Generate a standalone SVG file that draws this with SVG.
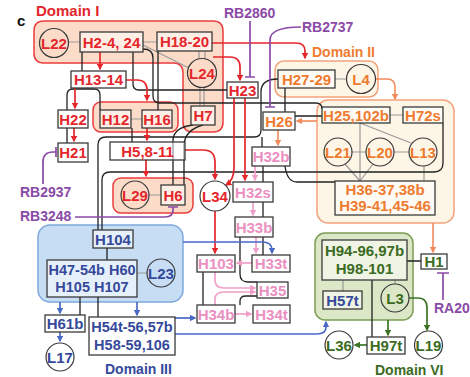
<svg xmlns="http://www.w3.org/2000/svg" width="470" height="377" viewBox="0 0 470 377">
<defs>
<style>
text{font-family:"Liberation Sans",Arial,sans-serif;font-weight:bold;font-size:15px;text-anchor:middle}
.st{text-anchor:start;font-size:14px}
.bx{fill:#fff;fill-opacity:.55;stroke:#3a3a3a;stroke-width:1.3}
.ci{fill:none;stroke:#3a3a3a;stroke-width:1.2}
.r{fill:#e4262c}.o{fill:#ee7b30}.p{fill:#ea8fc0}.b{fill:#35499a}.g{fill:#3b6b22}.pu{fill:#8a4aa6}
.k{fill:none;stroke:#222;stroke-width:1.3}
.gr{fill:none;stroke:#9a9a9a;stroke-width:1.2}
.ar{fill:none;stroke:#e4262c;stroke-width:1.7;marker-end:url(#mr)}
.ao{fill:none;stroke:#f28a5c;stroke-width:1.6;marker-end:url(#mo)}
.ap{fill:none;stroke:#f0a0c8;stroke-width:1.7;marker-end:url(#mp)}
.ab{fill:none;stroke:#4a68c6;stroke-width:1.7;marker-end:url(#mb)}
.ag{fill:none;stroke:#3b7524;stroke-width:1.7;marker-end:url(#mg)}
.pl{fill:none;stroke:#8a4aa6;stroke-width:1.7}
</style>
<marker id="mr" viewBox="0 0 10 10" refX="8" refY="5" markerWidth="4" markerHeight="4" orient="auto"><path d="M0,0L10,5L0,10z" fill="#e4262c"/></marker>
<marker id="mo" viewBox="0 0 10 10" refX="8" refY="5" markerWidth="4" markerHeight="4" orient="auto"><path d="M0,0L10,5L0,10z" fill="#f28a5c"/></marker>
<marker id="mp" viewBox="0 0 10 10" refX="8" refY="5" markerWidth="4" markerHeight="4" orient="auto"><path d="M0,0L10,5L0,10z" fill="#f0a0c8"/></marker>
<marker id="mb" viewBox="0 0 10 10" refX="8" refY="5" markerWidth="4" markerHeight="4" orient="auto"><path d="M0,0L10,5L0,10z" fill="#4a68c6"/></marker>
<marker id="mg" viewBox="0 0 10 10" refX="8" refY="5" markerWidth="4" markerHeight="4" orient="auto"><path d="M0,0L10,5L0,10z" fill="#3b7524"/></marker>
</defs>
<rect width="470" height="377" fill="#fff"/>

<g id="domains">
<path d="M44,21H213Q223,21 223,31V122Q223,132 213,132H193Q183,132 183,122V73Q183,63 173,63H44Q34,63 34,53V31Q34,21 44,21Z" fill="#fcdcc8" stroke="#ea3c3c" stroke-width="1.5"/>
<rect x="93" y="102" width="85" height="30" rx="8" fill="#fcdcc8" stroke="#ea3c3c" stroke-width="1.5"/>
<rect x="113" y="178" width="80" height="35" rx="8" fill="#fcdcc8" stroke="#ea3c3c" stroke-width="1.5"/>
<rect x="275" y="61" width="103" height="36" rx="9" fill="#fdf6e6" stroke="#f5a27c" stroke-width="1.5"/>
<rect x="317" y="100" width="137" height="123" rx="11" fill="#fdf6e6" stroke="#f5a27c" stroke-width="1.5"/>
<rect x="38" y="225" width="145" height="77" rx="12" fill="#c7ddf4" stroke="#7ea8dc" stroke-width="1.5"/>
<rect x="315" y="233" width="98" height="87" rx="10" fill="#dbe7c6" stroke="#7c9c55" stroke-width="1.5"/>
</g>

<g id="connectors">
<!-- gray -->
<path class="gr" d="M68.5,42H80M143,42H157M143,45L189,68M199,51V59M205,51V59M200,87.5V106M204,87.5V106M131,119H142M149,195H161M335,79H346.5M390,115H403M360,123V181M360,123L411,143M352,152H366M394,152H409M345,164L360,181M373,164L360,181M424,166V181M137,273H147M343,280V291M395,280V284"/>
<!-- black -->
<path class="k" d="M82,52V71M133,52V84Q133,90 139,90H227M143,49Q153,49 153,58V96Q153,103 160,103H316Q322,103 322,109M158,51V110M67,110V95Q67,89 73,89H94Q100,89 100,95V110M67,128V143M132,128V142M193,125Q174,127 173,140V185M203,125Q185,130 184,145V185"/>
<path class="k" d="M278,79Q261,79 261,92V130Q261,137 254,137H106Q98,137 98,145V230M443,123V163Q443,172 434,172H110Q102,172 102,180V230M285,166Q287,182 297,182H335M285,88V112M295,116H322M262,137V147M263,166V182M263,202V217M263,237V255M240,237V274Q240,282 248,282H257M240,305V301Q240,296 246,296H257M203,272V305"/>
<path class="k" d="M107,248V260M80,297V315M98,297V317M407,261H421M372,280V337"/>
<!-- red -->
<path class="ar" d="M100,52V69"/>
<path class="ar" d="M75,88V108"/>
<path class="ar" d="M74,128V141"/>
<path class="ar" d="M126,80H137Q147,80 147,90V100"/>
<path class="ar" d="M147,128V140"/>
<path class="ar" d="M146,160V176"/>
<path class="ar" d="M185,150H203Q215,150 215,162V179"/>
<path class="ar" d="M234,98V168Q234,180 226,185"/>
<path class="ar" d="M245,98V180"/>
<path class="ar" d="M213,57H230Q240,57 240,67V80"/>
<path class="ar" d="M212,43H296Q305,43 305,51V58"/>
<path class="ar" d="M215,211V253"/>
<!-- orange -->
<path class="ao" d="M375.5,79H387Q395,79 395,87V99"/>
<path class="ao" d="M317,121H297"/>
<path class="ao" d="M278,130V145"/>
<path class="ao" d="M433,223V252"/>
<!-- pink -->
<path class="ap" d="M255,166V180"/>
<path class="ap" d="M253,202V215"/>
<path class="ap" d="M256,237V253"/>
<path class="ap" d="M252,263H237"/>
<path class="ap" d="M215,272V280Q215,288 224,288H255"/>
<path class="ap" d="M215,305V299Q215,292 224,292H255"/>
<path class="ap" d="M235,314H251"/>
<!-- blue -->
<path class="ab" d="M60,302V313"/>
<path class="ab" d="M60,332V341"/>
<path class="ab" d="M137,302V315"/>
<path class="ab" d="M183,242H262Q272,242 272,250V253"/>
<path class="ab" d="M175,318H195"/>
<path class="ab" d="M175,334H317Q326,334 326,327V322"/>
<!-- green -->
<path class="ag" d="M388,320V335"/>
<path class="ag" d="M409,298H418Q427,298 427,308V330"/>
<path class="ag" d="M367,345H355"/>
<!-- purple inhibitors -->
<path class="pl" d="M250,21V77M245,77H255"/>
<path class="pl" d="M301,27Q270,27 270,40V107M265,107H275"/>
<path class="pl" d="M43,184V162Q43,152 53,152H56M56,147V157"/>
<path class="pl" d="M75,217H165Q173,217 173,210V207M168,207H178"/>
<path class="pl" d="M443,300V273M437,273H449"/>
</g>

<g id="L22"><circle class="ci" cx="54" cy="43" r="14.5"/><text class="r" x="54" y="48.5">L22</text></g>
<g id="H2-4"><rect class="bx" x="80" y="32" width="63" height="20"/><text class="r" x="111.5" y="47.5">H2-4, 24</text></g>
<g id="H18-20"><rect class="bx" x="157" y="32" width="55" height="19"/><text class="r" x="184.5" y="47">H18-20</text></g>
<g id="L24"><circle class="ci" cx="202" cy="73" r="14.5"/><text class="r" x="202" y="78.5">L24</text></g>
<g id="H7"><rect class="bx" x="191" y="106" width="24" height="19"/><text class="r" x="203" y="121">H7</text></g>
<g id="H13-14"><rect class="bx" x="71" y="71" width="55" height="17"/><text class="r" x="98.5" y="85">H13-14</text></g>
<g id="H22"><rect class="bx" x="58" y="110" width="30" height="18"/><text class="r" x="73" y="124.5">H22</text></g>
<g id="H12"><rect class="bx" x="100" y="110" width="31" height="18"/><text class="r" x="115.5" y="124.5">H12</text></g>
<g id="H16"><rect class="bx" x="142" y="110" width="30" height="18"/><text class="r" x="157" y="124.5">H16</text></g>
<g id="H21"><rect class="bx" x="58" y="143" width="30" height="19"/><text class="r" x="73" y="158">H21</text></g>
<g id="H5"><rect class="bx" x="110" y="142" width="75" height="18"/><text class="r" x="147.5" y="156.5">H5,8-11</text></g>
<g id="L29"><circle class="ci" cx="135" cy="195" r="14"/><text class="r" x="135" y="200.5">L29</text></g>
<g id="H6"><rect class="bx" x="161" y="185" width="24" height="20"/><text class="r" x="173" y="200.5">H6</text></g>
<g id="L34"><circle class="ci" cx="215" cy="196" r="15"/><text class="r" x="215" y="201.5">L34</text></g>
<g id="H23"><rect class="bx" x="227" y="82" width="31" height="16"/><text class="r" x="242.5" y="95.5">H23</text></g>

<g id="H27-29"><rect class="bx" x="278" y="70" width="57" height="18"/><text class="o" x="306.5" y="84.5">H27-29</text></g>
<g id="L4"><circle class="ci" cx="361" cy="79" r="14.5"/><text class="o" x="361" y="84.5">L4</text></g>
<g id="H26"><rect class="bx" x="263" y="112" width="32" height="18"/><text class="o" x="279" y="126.5">H26</text></g>
<g id="H25"><rect class="bx" x="322" y="107" width="68" height="16"/><text class="o" x="356" y="120.5">H25,102b</text></g>
<g id="H72s"><rect class="bx" x="403" y="107" width="40" height="16"/><text class="o" x="423" y="120.5">H72s</text></g>
<g id="L21"><circle class="ci" cx="338" cy="152" r="14"/><text class="o" x="338" y="157.5">L21</text></g>
<g id="L20"><circle class="ci" cx="380" cy="152" r="14"/><text class="o" x="380" y="157.5">L20</text></g>
<g id="L13"><circle class="ci" cx="423" cy="152" r="14"/><text class="o" x="423" y="157.5">L13</text></g>
<g id="H36"><rect class="bx" x="335" y="181" width="100" height="34"/><text class="o" x="385" y="195">H36-37,38b</text><text class="o" x="385" y="211">H39-41,45-46</text></g>

<g id="H32b"><rect class="bx" x="252" y="147" width="38" height="19"/><text class="p" x="271" y="162">H32b</text></g>
<g id="H32s"><rect class="bx" x="233" y="182" width="40" height="20"/><text class="p" x="253" y="197.5">H32s</text></g>
<g id="H33b"><rect class="bx" x="235" y="217" width="38" height="20"/><text class="p" x="254" y="232.5">H33b</text></g>
<g id="H103"><rect class="bx" x="197" y="255" width="38" height="17"/><text class="p" x="216" y="269">H103</text></g>
<g id="H33t"><rect class="bx" x="252" y="255" width="38" height="17"/><text class="p" x="271" y="269">H33t</text></g>
<g id="H35"><rect class="bx" x="257" y="282" width="31" height="16"/><text class="p" x="272.5" y="295.5">H35</text></g>
<g id="H34b"><rect class="bx" x="197" y="305" width="38" height="18"/><text class="p" x="216" y="319.5">H34b</text></g>
<g id="H34t"><rect class="bx" x="253" y="305" width="37" height="18"/><text class="p" x="271.5" y="319.5">H34t</text></g>

<g id="H104"><rect class="bx" x="93" y="230" width="40" height="18"/><text class="b" x="113" y="244.5">H104</text></g>
<g id="H47"><rect class="bx" x="47" y="260" width="90" height="37"/><text class="b" x="92" y="275" style="font-size:14.5px">H47-54b H60</text><text class="b" x="92" y="292" style="font-size:14.5px">H105 H107</text></g>
<g id="L23"><circle class="ci" cx="161" cy="273" r="14"/><text class="b" x="161" y="278.5">L23</text></g>
<g id="H61b"><rect class="bx" x="45" y="315" width="40" height="17"/><text class="b" x="65" y="329">H61b</text></g>
<g id="L17"><circle class="ci" cx="60" cy="357" r="14"/><text class="b" x="60" y="362.5">L17</text></g>
<g id="H54t"><rect class="bx" x="89" y="317" width="86" height="38"/><text class="b" x="132" y="331.5" style="font-size:14.5px">H54t-56,57b</text><text class="b" x="132" y="350" style="font-size:14.5px">H58-59,106</text></g>

<g id="H94"><rect class="bx" x="322" y="240" width="85" height="40"/><text class="g" x="364.5" y="256">H94-96,97b</text><text class="g" x="364.5" y="274">H98-101</text></g>
<g id="H57t"><rect class="bx" x="323" y="291" width="39" height="18"/><text class="b" x="342.5" y="305.5">H57t</text></g>
<g id="L3"><circle class="ci" cx="395" cy="298" r="14"/><text class="g" x="395" y="303.5">L3</text></g>
<g id="H1"><rect class="bx" x="421" y="254" width="26" height="15"/><text class="g" x="434" y="267">H1</text></g>
<g id="L36"><circle class="ci" cx="339" cy="345" r="14"/><text class="g" x="339" y="350.5">L36</text></g>
<g id="H97t"><rect class="bx" x="367" y="337" width="38" height="17"/><text class="g" x="386" y="351">H97t</text></g>
<g id="L19"><circle class="ci" cx="428.5" cy="345" r="14"/><text class="g" x="428.5" y="350.5">L19</text></g>

<g id="labels">
<text class="st" x="17" y="26" style="font-size:15px" fill="#111">c</text>
<text class="st r" x="36" y="16" style="font-size:15px">Domain I</text>
<text class="st o" x="312" y="57">Domain II</text>
<text class="st b" x="105" y="374">Domain III</text>
<text class="st g" x="375" y="375">Domain VI</text>
<text class="st pu" x="224" y="18">RB2860</text>
<text class="st pu" x="302" y="32">RB2737</text>
<text class="st pu" x="20" y="197">RB2937</text>
<text class="st pu" x="20" y="221">RB3248</text>
<text class="st pu" x="434" y="313">RA20</text>
</g>
</svg>
